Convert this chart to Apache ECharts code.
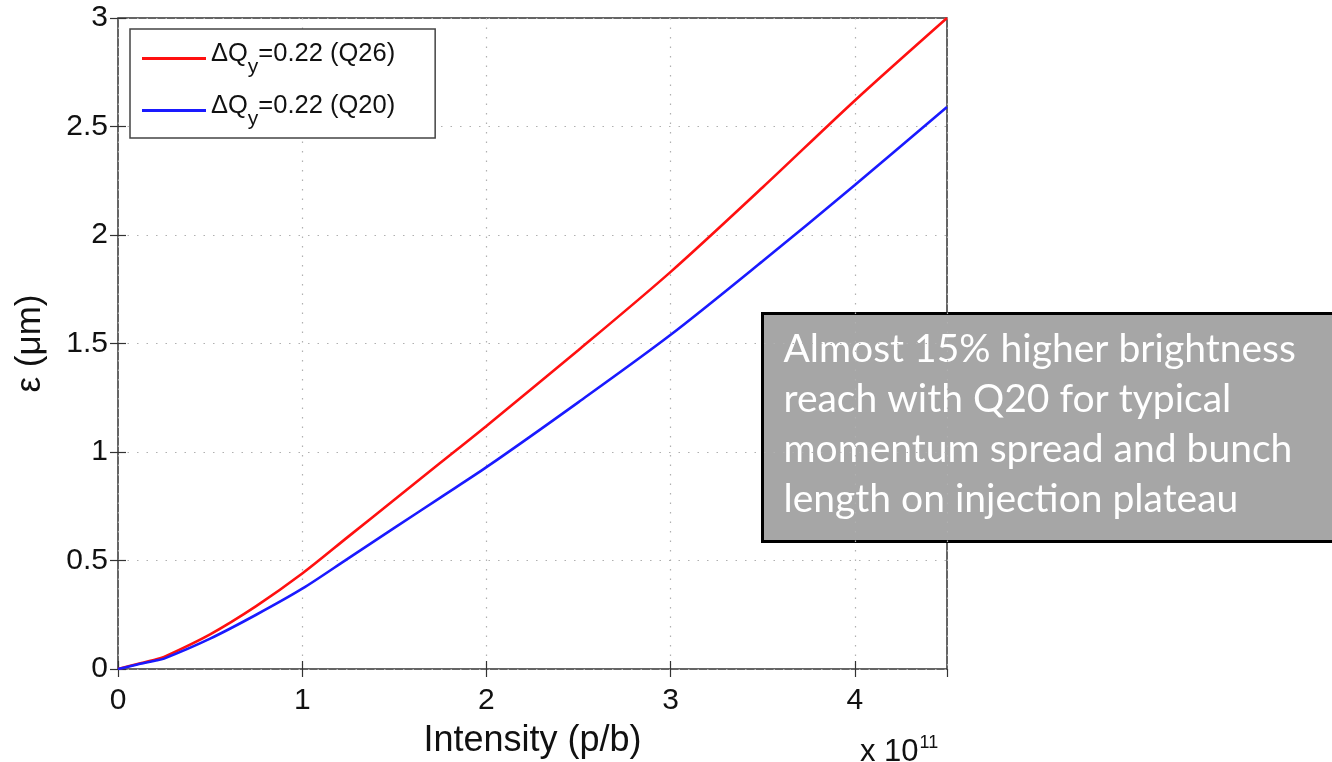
<!DOCTYPE html>
<html>
<head>
<meta charset="utf-8">
<script src="https://cdn.jsdelivr.net/npm/echarts@6/dist/echarts.min.js"></script>
<style>html,body{margin:0;padding:0;background:#fff;}#c{width:1332px;height:762px;}</style>
</head>
<body>
<div id="c"></div>
<script>
// Intensity in units of 1e11 p/b
const intensity = [0, 0.1, 0.2, 0.25, 0.5, 0.75, 1.0, 1.25, 1.5, 1.75, 2.0, 2.5, 3.0, 3.5, 4.0, 4.5];
const epsQ26 = [0, 0.022, 0.043, 0.056, 0.16, 0.29, 0.44, 0.61, 0.78, 0.95, 1.12, 1.47, 1.83, 2.22, 2.62, 3.0];
const epsQ20 = [0, 0.02, 0.038, 0.048, 0.14, 0.25, 0.37, 0.51, 0.65, 0.79, 0.93, 1.23, 1.54, 1.88, 2.23, 2.59];
const xTicks = [0, 1, 2, 3, 4];
const yTicks = [0, 0.5, 1, 1.5, 2, 2.5, 3];
const seriesNames = ['Q26', 'Q20'];
const annotationLines = [
  'Almost 15% higher brightness',
  'reach with Q20 for typical',
  'momentum spread and bunch',
  'length on injection plateau'
];

const font = '"Liberation Sans", Arial, sans-serif';
const chart = echarts.init(document.getElementById('c'));
const pair = (xs, ys) => xs.map((x, i) => [x, ys[i]]);
const dotted = { color: '#b0b0b0', width: 1.2, type: [1.5, 8] };

chart.setOption({
  animation: false,
  backgroundColor: '#fff',
  grid: { left: 118, right: 385, top: 18, bottom: 93, outerBoundsMode: 'none', containLabel: false,
    show: true, borderColor: '#333', borderWidth: 1.5, backgroundColor: 'transparent' },
  legend: {
    orient: 'vertical',
    left: 130, top: 29,
    width: 305,
    padding: [10, 40, 8, 12],
    itemGap: 13,
    itemWidth: 64, itemHeight: 3,
    icon: 'rect',
    backgroundColor: '#fff',
    borderColor: '#444', borderWidth: 1.5, borderRadius: 0,
    data: seriesNames,
    formatter: n => '{a|ΔQ}{s|y}{a|=0.22 (' + n + ')}',
    textStyle: {
      rich: {
        a: { fontFamily: font, fontSize: 25.5, color: '#111', lineHeight: 36, verticalAlign: 'top' },
        s: { fontFamily: font, fontSize: 21, color: '#111', lineHeight: 36, padding: [18, 0, 0, 0] }
      }
    }
  },
  xAxis: [{
    type: 'value', min: 0, max: 4.5, interval: 1,
    axisLine: { show: false },
    axisTick: { inside: true, length: 8, lineStyle: { color: '#333', width: 1.2 } },
    axisLabel: { showMaxLabel: false, fontFamily: font, fontSize: 30, color: '#111', margin: 17 },
    splitLine: { show: true, lineStyle: dotted },
    name: 'Intensity (p/b)', nameLocation: 'middle', nameGap: 54,
    nameTextStyle: { fontFamily: font, fontSize: 36, color: '#111' }
  }, {
    type: 'value', position: 'top', min: 0, max: 4.5, interval: 1,
    axisLine: { show: false },
    axisTick: { inside: true, length: 8, lineStyle: { color: '#333', width: 1.2 } },
    axisLabel: { show: false }, splitLine: { show: false }
  }],
  yAxis: [{
    type: 'value', min: 0, max: 3, interval: 0.5,
    axisLine: { show: false },
    axisTick: { inside: true, length: 8, lineStyle: { color: '#333', width: 1.2 } },
    axisLabel: { fontFamily: font, fontSize: 30, color: '#111', margin: 10 },
    splitLine: { show: true, lineStyle: dotted },
    name: 'ε (μm)', nameLocation: 'middle', nameGap: 70, nameRotate: 90,
    nameTextStyle: { fontFamily: font, fontSize: 35, color: '#111' }
  }, {
    type: 'value', position: 'right', min: 0, max: 3, interval: 0.5,
    axisLine: { show: false },
    axisTick: { inside: true, length: 8, lineStyle: { color: '#333', width: 1.2 } },
    axisLabel: { show: false }, splitLine: { show: false }
  }],
  series: [{
    name: seriesNames[0], type: 'line', data: pair(intensity, epsQ26),
    smooth: 0.3, symbol: 'none', lineStyle: { color: '#ff1010', width: 2.6 }, itemStyle: { color: '#ff1010' }
  }, {
    name: seriesNames[1], type: 'line', data: pair(intensity, epsQ20),
    smooth: 0.3, symbol: 'none', lineStyle: { color: '#1a1aff', width: 2.6 }, itemStyle: { color: '#1a1aff' }
  }],
  graphic: [{
    type: 'text', left: 860, top: 734,
    style: {
      text: '{a|x 10}{s|11}',
      rich: {
        a: { fontFamily: font, fontSize: 31, fill: '#111', verticalAlign: 'bottom' },
        s: { fontFamily: font, fontSize: 18, fill: '#111', padding: [0, 0, 16, 1] }
      }
    }
  }, {
    type: 'group', left: 761, top: 312,
    children: [{
      type: 'rect', shape: { x: 0, y: 0, width: 590, height: 228 },
      style: { fill: '#a6a6a6', stroke: '#000', lineWidth: 3 }
    }, {
      type: 'text', x: 21, y: 11,
      style: { text: annotationLines.join('\n'), fontFamily: 'Lato, "Open Sans", sans-serif', fontSize: 39, lineHeight: 50, fill: '#fff' }
    }]
  }]
});
</script>
</body>
</html>
